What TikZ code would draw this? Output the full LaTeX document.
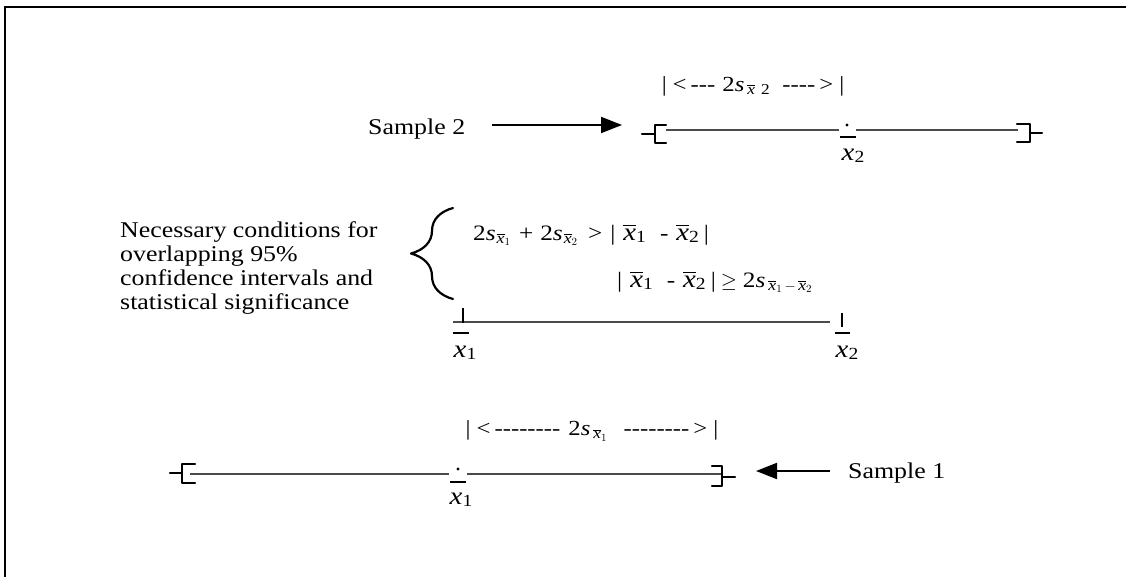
\documentclass[tikz,border=0pt]{standalone}
\usepackage{amsmath}
\usepackage{fontspec}
\setmainfont{Liberation Serif}[FakeStretch=1.15]
\usetikzlibrary{decorations.pathreplacing,arrows.meta}
\newcommand\hy{\mbox{-}}
\newcommand\ix[1]{\raisebox{-2pt}{\fontsize{17}{17}\selectfont #1}}
\newcommand\bigx{{\fontsize{25}{25}\selectfont\textit{x}}}
\newcommand\XB[1]{{\fontsize{25}{25}\selectfont$\overline{\hbox{\itshape x}}$}\ix{#1}}
\newcommand\sx[1]{\ensuremath{_{\overline{\textit{x}}_{#1}}}}
\begin{document}
\begin{tikzpicture}[x=1pt,y=-1pt,
  txt/.style={font=\fontsize{22.5}{24}\selectfont, inner sep=0pt, anchor=west},
  eq/.style={font=\fontsize{22}{24}\selectfont, inner sep=0pt, anchor=west},
  lbl/.style={font=\fontsize{21.5}{24}\selectfont, inner sep=0pt},
  bk/.style={line width=2.2pt, line join=round, line cap=round},
  ln/.style={line width=1.5pt, draw=black!70},
  tk/.style={line width=1.6pt},
  arr/.style={line width=2pt, -{Triangle[length=21pt,width=16pt]}}
]
\useasboundingbox (0,0) rectangle (1126,577);
% frame
\draw[line width=1.6pt] (5,577) -- (5,7) -- (1126,7);

% ---- Sample 2 ----
\node[txt] (s2) at (368,129) {Sample 2};
\coordinate (a2s) at (492,125);
\coordinate (a2e) at (622,125);
\draw[arr] (a2s) -- (a2e);
\node[lbl] (w2) at (753,86) {|\hspace{6pt}<\hspace{4pt}\hy\hy\hy\hspace{7pt}2\textit{s}\hspace{3pt}$_{\overline{\textit{x}}\ \text{2}}$\hspace{12pt}\hy\hy\hy\hy\hspace{4pt}>\hspace{6pt}|};
\draw[bk] (666,125) -- (655,125) -- (655,143) -- (666,143);
\draw[bk] (642,134) -- (655,134);
\draw[ln] (666,130) -- (839,130);
\draw[ln] (856,130) -- (1018,130);
\draw[bk] (1017,124) -- (1030,124) -- (1030,142) -- (1017,142);
\draw[bk] (1030,133) -- (1042,133);
\fill (847,125) circle (1.7);
\draw[tk] (840,137) -- (856,137);
\node[lbl] (m2) at (853,156) {\bigx\ix{2}};

% ---- conditions ----
\node[txt, align=left, anchor=north west] (cond) at (120,221)
  {Necessary conditions for\\overlapping 95\%\\confidence intervals and\\statistical significance};
\draw[bk, decorate, decoration={brace, amplitude=42pt}] (453,299) -- (453,208);
\node[eq] (e1) at (473,235) {2\textit{s}\hspace{1pt}\sx{1}\hspace{8pt}+\hspace{7pt}2\textit{s}\hspace{1pt}\sx{2}\hspace{10pt}>\hspace{8pt}|\hspace{8pt}\XB{1}\hspace{14pt}-\hspace{8pt}\XB{2}\hspace{5pt}|};
\node[eq] (e2) at (617,282) {|\hspace{8pt}\XB{1}\hspace{14pt}-\hspace{8pt}\XB{2}\hspace{5pt}|\hspace{5pt}$\geq$\hspace{6pt}2\textit{s}\hspace{3pt}$_{\overline{\textit{x}}_1\,-\,\overline{\textit{x}}_2}$};

% ---- difference line ----
\draw[ln] (453,322) -- (830,322);
\draw[tk] (463,308) -- (463,323);
\draw[tk] (842,313) -- (842,327);
\draw[tk] (453,333) -- (469,333);
\draw[tk] (835,333) -- (850,333);
\node[lbl] (d1) at (465,353) {\bigx\ix{1}};
\node[lbl] (d2) at (847,353) {\bigx\ix{2}};

% ---- Sample 1 ----
\node[lbl] (w1) at (592,431) {|\hspace{6pt}<\hspace{4pt}\hy\hy\hy\hy\hy\hy\hy\hy\hspace{8pt}2\textit{s}\hspace{3pt}$_{\overline{\textit{x}}_1}$\hspace{16pt}\hy\hy\hy\hy\hy\hy\hy\hy\hspace{4pt}>\hspace{6pt}|};
\draw[bk] (170,473) -- (182,473);
\draw[bk] (195,464) -- (182,464) -- (182,483) -- (195,483);
\draw[ln] (190,474) -- (449,474);
\draw[ln] (467,474) -- (722,474);
\fill (458,469) circle (1.7);
\draw[tk] (450,482) -- (466,482);
\node[lbl] (m1) at (461,500) {\bigx\ix{1}};
\draw[bk] (712,466) -- (722,466) -- (722,486) -- (712,486);
\draw[bk] (722,477) -- (735,477);
\node[txt] (s1) at (848,473) {Sample 1};
\coordinate (a1s) at (830,471);
\coordinate (a1e) at (756,471);
\draw[arr] (a1s) -- (a1e);
\end{tikzpicture}
\end{document}
